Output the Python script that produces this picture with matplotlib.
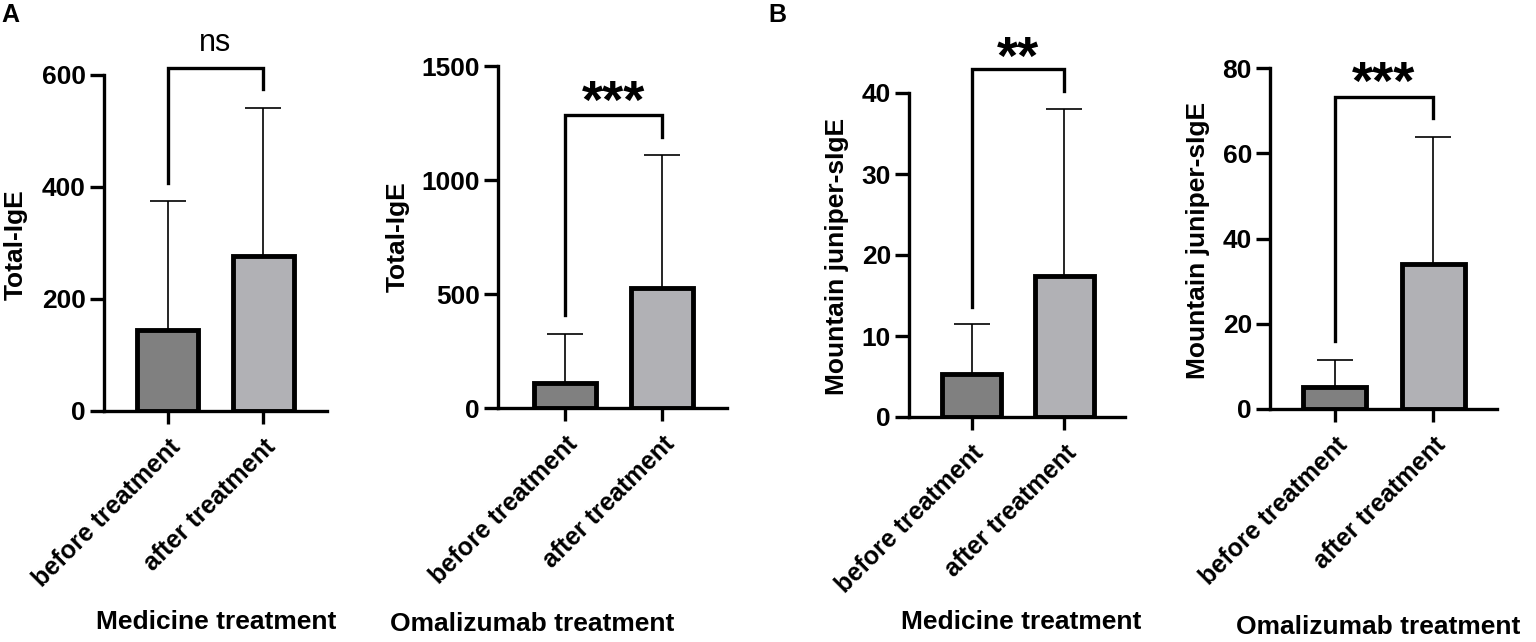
import matplotlib
matplotlib.use("Agg")
import matplotlib.pyplot as plt

plt.rcParams['font.family'] = ['Liberation Sans', 'DejaVu Sans']

groups = ["before treatment", "after treatment"]
bar_colors = ["#808080", "#b1b1b5"]

# mean and upper SD for each panel
total_med = [145, 277]
total_med_sd = [230, 264]
total_oma = [110, 526]
total_oma_sd = [215, 584]
junip_med = [5.3, 17.4]
junip_med_sd = [6.2, 20.6]
junip_oma = [5.2, 34.0]
junip_oma_sd = [6.3, 29.8]

ylabels = ["Total-IgE", "Total-IgE", "Mountain juniper-sIgE", "Mountain juniper-sIgE"]
titles = ["Medicine treatment", "Omalizumab treatment", "Medicine treatment", "Omalizumab treatment"]
ymax = [600, 1500, 40, 80]
yticks = [[0, 200, 400, 600], [0, 500, 1000, 1500], [0, 10, 20, 30, 40], [0, 20, 40, 60, 80]]
signif = ["ns", "***", "**", "***"]
# bracket: left leg bottom, top, right leg bottom
brackets = [[407, 612, 575], [408, 1285, 1189], [13.6, 43.0, 40.3], [16, 73.2, 68.3]]

means = [total_med, total_oma, junip_med, junip_oma]
sds = [total_med_sd, total_oma_sd, junip_med_sd, junip_oma_sd]

W, H = 1536, 642
fig = plt.figure(figsize=(W / 100, H / 100), dpi=100)

# pixel boxes: left, right, top, bottom, xlim
boxes = [
    (104, 327, 75, 411, (-0.67, 1.67)),
    (498, 727, 66, 408, (-0.69, 1.67)),
    (909, 1125, 93, 417, (-0.68, 1.66)),
    (1270, 1497, 68, 409, (-0.66, 1.65)),
]
ylab_pos = [(16, 245), (398, 237), (837, 256), (1198, 240)]
title_pos = [(216, 622), (532, 624), (1021, 622), (1378, 627)]
sig_y = [43, 92, 48, 73]

for i in range(4):
    l, r, t, b, xl = boxes[i]
    ax = fig.add_axes([l / W, 1 - b / H, (r - l) / W, (b - t) / H])
    x = [0, 1]
    ax.bar(x, means[i], width=0.64, color=bar_colors, edgecolor="black", linewidth=3.5, zorder=2)
    ax.errorbar(x, means[i], yerr=[[0, 0], sds[i]], fmt="none", ecolor="black",
                elinewidth=1.2, capsize=13, capthick=1.2, zorder=1)
    ax.set_xlim(*xl)
    ax.set_ylim(0, ymax[i])
    ax.set_yticks(yticks[i])
    ax.set_xticks(x)
    ax.set_xticklabels(groups, rotation=45, ha="right", rotation_mode="anchor",
                       fontsize=18, fontweight="bold")
    for lab in ax.get_yticklabels():
        lab.set_fontsize(19)
        lab.set_fontweight("bold")
    ax.spines["top"].set_visible(False)
    ax.spines["right"].set_visible(False)
    ax.spines["left"].set_linewidth(2.4)
    ax.spines["bottom"].set_linewidth(2.4)
    ax.tick_params(axis="y", length=10, width=2.4, pad=3)
    ax.tick_params(axis="x", length=9, width=2.4, pad=8)
    bl, bt, br = brackets[i]
    ax.plot([0, 0, 1, 1], [bl, bt, bt, br], color="black", lw=2.4, clip_on=False,
            solid_joinstyle="miter")

    fig.text(ylab_pos[i][0] / W, 1 - ylab_pos[i][1] / H, ylabels[i], rotation=90,
             ha="center", va="center", fontsize=19, fontweight="bold")
    fig.text(title_pos[i][0] / W, 1 - title_pos[i][1] / H, titles[i],
             ha="center", va="center", fontsize=19, fontweight="bold")
    sx = (l + (r - l) * (0.5 - xl[0]) / (xl[1] - xl[0])) / W
    if signif[i] == "ns":
        fig.text(sx, 1 - sig_y[i] / H, "ns", ha="center", va="center", fontsize=22)
    else:
        fig.text(sx, 1 - (sig_y[i] + 12) / H, signif[i], ha="center", va="center",
                 fontsize=39, fontweight="bold")

fig.text(10 / W, 1 - 15 / H, "A", ha="center", va="center", fontsize=18, fontweight="bold")
fig.text(777 / W, 1 - 15 / H, "B", ha="center", va="center", fontsize=18, fontweight="bold")

fig.savefig("out.png", dpi=100)
